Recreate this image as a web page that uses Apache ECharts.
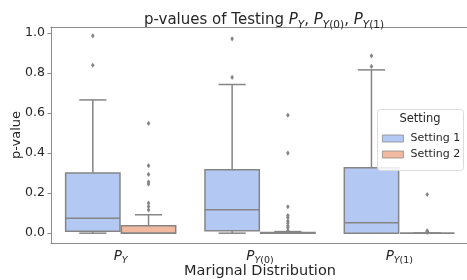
<!DOCTYPE html>
<html>
<head>
<meta charset="utf-8">
<script src="https://cdn.jsdelivr.net/npm/echarts@6/dist/echarts.min.js"></script>
<style>html,body{margin:0;padding:0;background:#fff;}#c{width:467px;height:280px;}</style>
</head>
<body>
<div id="c"></div>
<script>
// ---- data ----
const categories = ['P_Y', 'P_Y(0)', 'P_Y(1)'];
const yTicks = [0, 0.2, 0.4, 0.6, 0.8, 1.0];
const seriesNames = ['Setting 1', 'Setting 2'];
// [min, Q1, median, Q3, max]
const setting1Stats = [
  [0.0, 0.010, 0.075, 0.300, 0.665],
  [0.0, 0.012, 0.117, 0.316, 0.742],
  [0.0, 0.000, 0.052, 0.327, 0.815]
];
const setting2Stats = [
  [0.0, 0.000, 0.000, 0.037, 0.092],
  [0.0, 0.000, 0.002, 0.004, 0.008],
  [0.0, 0.000, 0.000, 0.000, 0.000]
];
const setting1Outliers = [
  [0.985, 0.838],
  [0.970, 0.778],
  [0.885, 0.832]
];
const setting2Outliers = [
  [0.548, 0.337, 0.293, 0.256, 0.245, 0.150, 0.133, 0.116],
  [0.589, 0.400, 0.132, 0.088, 0.078, 0.061, 0.051, 0.037, 0.027, 0.013],
  [0.193, 0.012, 0.008, 0.004]
];

// ---- styling ----
const FONT = 'DejaVu Sans';
const fills = ['#b3c9f3', '#f0b9a0'];
const lineCol = '#858585';
const spineCol = '#8c8c8c';
const BOX_REL = 0.39;   // box width relative to band
const OFF_REL = 0.2;    // centre offset relative to band

function boxData(stats) { return stats.map((s, i) => [i].concat(s)); }
function outlierData(outs) {
  const d = [];
  outs.forEach((arr, i) => arr.forEach(v => d.push([i, v])));
  return d;
}

function makeBoxRender(sign, fill) {
  return function (params, api) {
    const ci = api.value(0);
    const band = api.size([1, 0])[0];
    const cx = api.coord([ci, 0])[0] + sign * band * OFF_REL;
    const w = band * BOX_REL;
    const cw = w * 0.5;
    const y = k => api.coord([ci, api.value(k)])[1];
    const yMin = y(1), yQ1 = y(2), yMed = y(3), yQ3 = y(4), yMax = y(5);
    const ls = { stroke: lineCol, lineWidth: 1.5 };
    return {
      type: 'group',
      children: [
        { type: 'line', shape: { x1: cx, y1: yQ3, x2: cx, y2: yMax }, style: ls },
        { type: 'line', shape: { x1: cx, y1: yQ1, x2: cx, y2: yMin }, style: ls },
        { type: 'line', shape: { x1: cx - cw / 2, y1: yMax, x2: cx + cw / 2, y2: yMax }, style: ls },
        { type: 'line', shape: { x1: cx - cw / 2, y1: yMin, x2: cx + cw / 2, y2: yMin }, style: ls },
        { type: 'rect', shape: { x: cx - w / 2, y: yQ3, width: w, height: yQ1 - yQ3 },
          style: { fill: fill, stroke: lineCol, lineWidth: 1.5 } },
        { type: 'line', shape: { x1: cx - w / 2, y1: yMed, x2: cx + w / 2, y2: yMed }, style: ls }
      ]
    };
  };
}
function makeOutRender(sign) {
  return function (params, api) {
    const ci = api.value(0);
    const band = api.size([1, 0])[0];
    const p = api.coord([ci, api.value(1)]);
    const cx = p[0] + sign * band * OFF_REL;
    const cy = p[1];
    const hw = 1.8, hh = 2.6;
    return {
      type: 'polygon',
      shape: { points: [[cx, cy - hh], [cx + hw, cy], [cx, cy + hh], [cx - hw, cy]] },
      style: { fill: lineCol, stroke: null }
    };
  };
}

function catRich(c) {
  if (c === 'P_Y') return '{i|P}{s|Y}';
  if (c === 'P_Y(0)') return '{i|P}{s|Y}{n|(0)}';
  return '{i|P}{s|Y}{n|(1)}';
}
const richX = {
  i: { fontFamily: FONT, fontSize: 13.5, fontStyle: 'italic', color: '#262626', lineHeight: 20, verticalAlign: 'middle' },
  s: { fontFamily: FONT, fontSize: 9.5, fontStyle: 'italic', color: '#262626', lineHeight: 20, verticalAlign: 'bottom' },
  n: { fontFamily: FONT, fontSize: 9.5, color: '#262626', lineHeight: 20, verticalAlign: 'bottom' }
};
const richT = {
  t: { fontFamily: FONT, fontSize: 15, fontWeight: 'normal', color: '#262626', lineHeight: 22, verticalAlign: 'middle' },
  i: { fontFamily: FONT, fontSize: 15, fontWeight: 'normal', fontStyle: 'italic', color: '#262626', lineHeight: 22, verticalAlign: 'middle' },
  s: { fontFamily: FONT, fontSize: 10.5, fontWeight: 'normal', fontStyle: 'italic', color: '#262626', lineHeight: 22, verticalAlign: 'bottom' },
  n: { fontFamily: FONT, fontSize: 10.5, fontWeight: 'normal', color: '#262626', lineHeight: 22, verticalAlign: 'bottom' }
};

const chart = echarts.init(document.getElementById('c'), null, { renderer: 'canvas' });
chart.setOption({
  animation: false,
  backgroundColor: '#ffffff',
  title: {
    text: '{t|p-values of Testing }{i|P}{s|Y}{t|, }{i|P}{s|Y}{n|(0)}{t|, }{i|P}{s|Y}{n|(1)}',
    left: 259, top: 4, textAlign: 'center',
    textStyle: { fontWeight: 'normal', rich: richT }
  },
  grid: { left: 51, right: -2, top: 27, bottom: 37, outerBoundsMode: 'none', containLabel: false, show: false },
  legend: {
    data: seriesNames.map((n, i) => ({ name: n, icon: 'rect', itemStyle: { color: fills[i], borderColor: spineCol, borderWidth: 0.8 } })),
    orient: 'vertical', left: 377, top: 128, itemWidth: 21, itemHeight: 7, itemGap: 5,
    textStyle: { fontFamily: FONT, fontSize: 11, color: '#262626', padding: [0, 0, 0, 2] },
    z: 10
  },
  graphic: [
    { type: 'rect', z: 9, shape: { x: 377.5, y: 109.5, width: 86, height: 61, r: 3 },
      style: { fill: 'rgba(255,255,255,0.85)', stroke: '#dcdcdc', lineWidth: 1 } },
    { type: 'text', z: 10, x: 420, y: 119, style: { text: 'Setting', font: '11.5px "DejaVu Sans"', fill: '#262626', align: 'center', verticalAlign: 'middle' } }
  ],
  xAxis: [{
    type: 'category',
    data: categories,
    position: 'bottom',
    name: 'Marignal Distribution',
    nameLocation: 'middle', nameGap: 21, nameMoveOverlap: false,
    nameTextStyle: { fontFamily: FONT, fontSize: 14.5, color: '#262626' },
    axisLine: { show: true, onZero: false, lineStyle: { color: spineCol, width: 1 } },
    axisTick: { alignWithLabel: true, length: 3.5, lineStyle: { color: spineCol } },
    axisLabel: { formatter: v => catRich(v), rich: richX, margin: 3 },
    splitLine: { show: false }
  }, {
    type: 'category',
    data: categories,
    position: 'top',
    axisLine: { show: true, onZero: false, lineStyle: { color: spineCol, width: 1 } },
    axisTick: { show: false },
    axisLabel: { show: false },
    splitLine: { show: false }
  }],
  yAxis: {
    type: 'value',
    min: -0.049, max: 1.029,
    name: 'p-value',
    nameLocation: 'middle', nameGap: 28, nameMoveOverlap: false,
    nameTextStyle: { fontFamily: FONT, fontSize: 13, color: '#262626' },
    axisLine: { show: true, onZero: false, lineStyle: { color: spineCol, width: 1 } },
    axisTick: { show: true, length: 3.5, customValues: yTicks, lineStyle: { color: spineCol } },
    axisLabel: { customValues: yTicks, formatter: v => v.toFixed(1), fontFamily: FONT, fontSize: 12.5, color: '#262626', margin: 6 },
    splitLine: { show: false }
  },
  series: [
    { name: seriesNames[0], type: 'custom', renderItem: makeBoxRender(-1, fills[0]), data: boxData(setting1Stats),
      encode: { x: 0, y: [1, 2, 3, 4, 5] }, itemStyle: { color: fills[0] }, z: 2 },
    { name: seriesNames[1], type: 'custom', renderItem: makeBoxRender(1, fills[1]), data: boxData(setting2Stats),
      encode: { x: 0, y: [1, 2, 3, 4, 5] }, itemStyle: { color: fills[1] }, z: 2 },
    { name: seriesNames[0], type: 'custom', renderItem: makeOutRender(-1), data: outlierData(setting1Outliers),
      encode: { x: 0, y: 1 }, itemStyle: { color: fills[0] }, z: 3 },
    { name: seriesNames[1], type: 'custom', renderItem: makeOutRender(1), data: outlierData(setting2Outliers),
      encode: { x: 0, y: 1 }, itemStyle: { color: fills[1] }, z: 3 }
  ]
});
</script>
</body>
</html>
